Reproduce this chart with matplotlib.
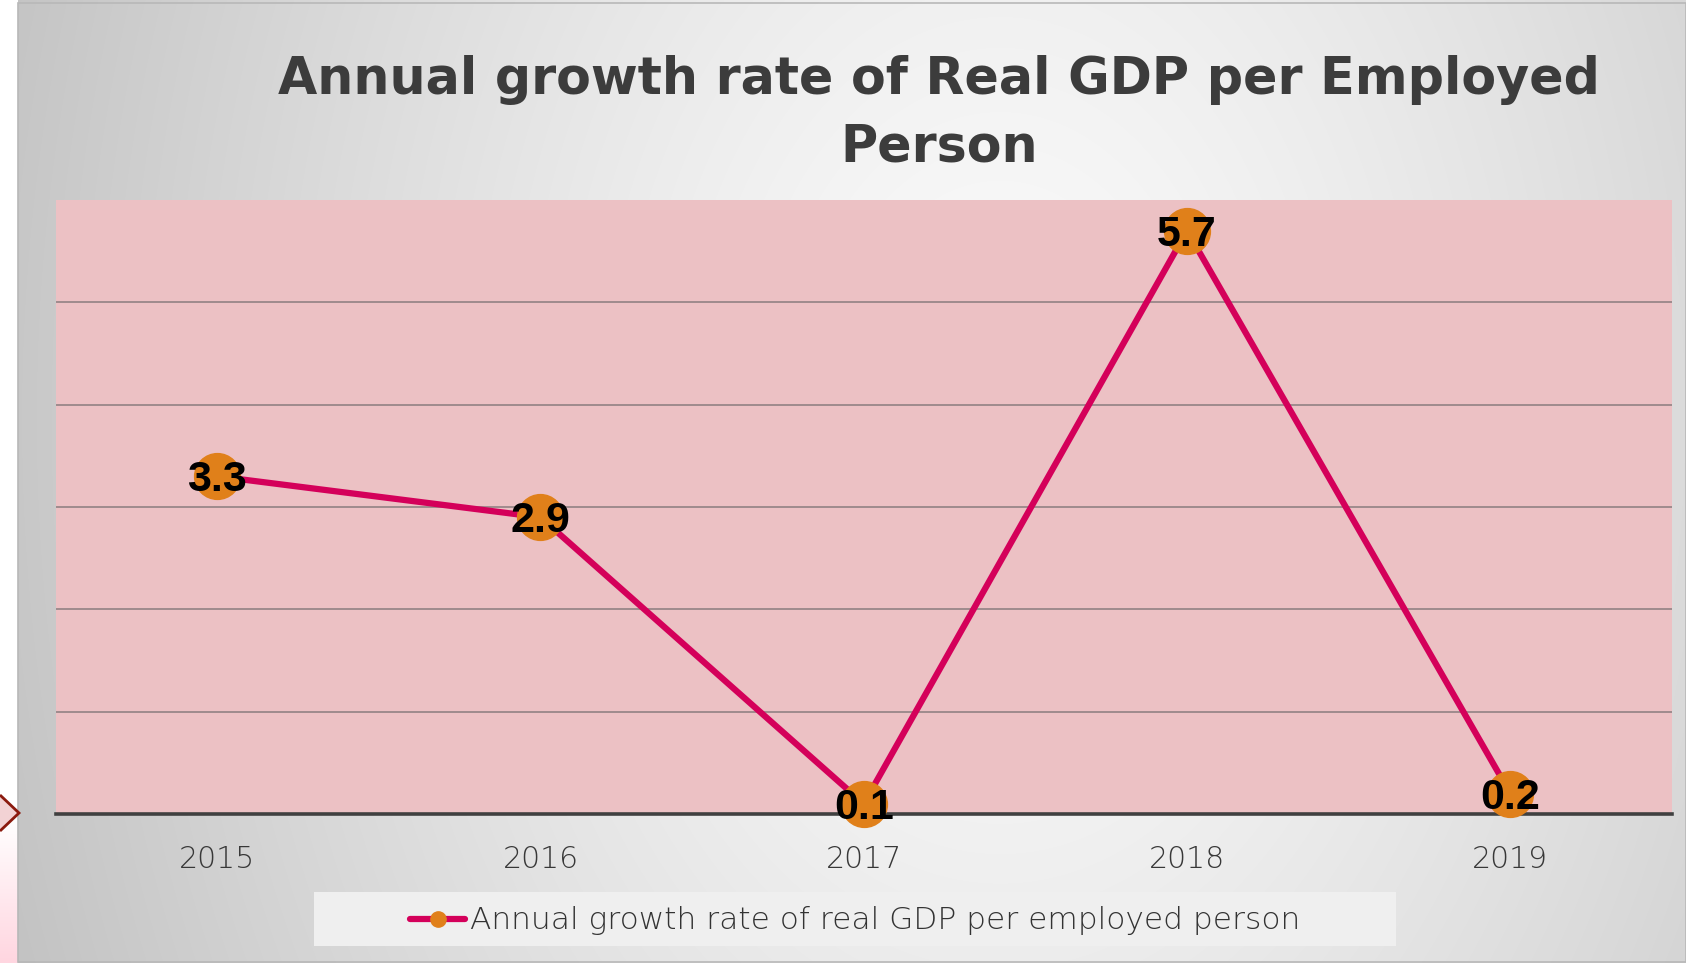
import numpy as np
import matplotlib
matplotlib.use("Agg")
import matplotlib.pyplot as plt
from matplotlib.patches import Polygon, Rectangle
from matplotlib.lines import Line2D

years = ["2015", "2016", "2017", "2018", "2019"]
growth = [3.3, 2.9, 0.1, 5.7, 0.2]
series_name = "Annual growth rate of real GDP per employed person"
title = "Annual growth rate of Real GDP per Employed\nPerson"

W, H = 1686, 963
fig = plt.figure(figsize=(W / 100, H / 100), dpi=100)

# slide background: grey radial-ish gradient
bg = fig.add_axes([0, 0, 1, 1], zorder=0)
xx, yy = np.meshgrid(np.arange(W), np.arange(H))
d = np.sqrt(((xx - 1000) / 1050.0) ** 2 + ((yy - 420) / 1500.0) ** 2)
d = np.clip(d, 0, 1)
shade = 0.985 - 0.22 * d ** 1.3
img = np.dstack([shade, shade, shade])
bg.imshow(img, extent=[0, W, H, 0], aspect="auto")
bg.set_xlim(0, W)
bg.set_ylim(H, 0)
bg.axis("off")

# white strip with pink fade on the far left, and the little chevron
strip = np.ones((H, 1, 3))
fade = np.clip((np.arange(H) - 820) / 140.0, 0, 1)
strip[:, 0, 1] = 1 - 0.16 * fade
strip[:, 0, 2] = 1 - 0.12 * fade
bg.imshow(strip, extent=[0, 18, H, 0], aspect="auto")
bg.add_patch(Rectangle((18, 3), W - 18, H - 4, fill=False, ec="#b8b8b8", lw=1.2))
bg.add_patch(Polygon([[0, 795], [19, 813], [0, 831]], closed=False,
                     fc="#f2d2d4", ec="#8b1a0e", lw=2))

fig.text(0.557, 0.882, title, ha="center", va="center", fontsize=36.5,
         fontweight="bold", color="#3c3c3c", family="DejaVu Sans", linespacing=1.45)

ax = fig.add_axes([55.5 / W, 1 - 814 / H, (1672 - 55.5) / W, (814 - 200) / H], zorder=2)
ax.set_facecolor("#ecc1c4")
x = np.arange(len(years)) + 0.5
ax.set_xlim(0, len(years))
ax.set_ylim(0, 6)
ax.set_yticks(range(1, 6))
ax.yaxis.grid(True, color="#8a7c7e", lw=1.1)
ax.set_axisbelow(True)
ax.tick_params(axis="y", left=False, labelleft=False)
ax.set_xticks(x)
ax.set_xticklabels(years)
ax.tick_params(axis="x", length=0, pad=22, labelsize=21.5, labelcolor="#383838")
for lab in ax.get_xticklabels():
    lab.set_family("DejaVu Sans")
    lab.set_fontweight("light")
for s in ["top", "left", "right"]:
    ax.spines[s].set_visible(False)
ax.spines["bottom"].set_color("#404040")
ax.spines["bottom"].set_linewidth(2.6)

ax.plot(x, growth, color="#d4005a", lw=4.5, marker="o", markersize=33,
        markerfacecolor="#e0801a", markeredgecolor="#e0801a", clip_on=False, zorder=3)
for xi, v in zip(x, growth):
    ax.annotate(f"{v}", (xi, v), xytext=(0, -3), textcoords="offset points",
                ha="center", va="center", fontsize=31, fontweight="bold",
                family="Liberation Sans", color="black", zorder=4)

# legend box below the plot
lg = fig.add_axes([314 / W, 1 - 946 / H, (1396 - 314) / W, (946 - 892) / H], zorder=2)
lg.set_xlim(0, 1082)
lg.set_ylim(0, 54)
lg.axis("off")
lg.add_patch(Rectangle((0, 0), 1082, 54, fc="#efefef", ec="none"))
lg.add_line(Line2D([96, 151], [27, 27], color="#d4005a", lw=4.5,
                   solid_capstyle="round"))
lg.plot([123.5], [27], marker="o", markersize=11, color="#e0801a")
lg.text(156, 26, series_name, ha="left", va="center", fontsize=22.5,
        color="#333333", family="DejaVu Sans", fontweight="light")

fig.savefig("out.png", dpi=100)
